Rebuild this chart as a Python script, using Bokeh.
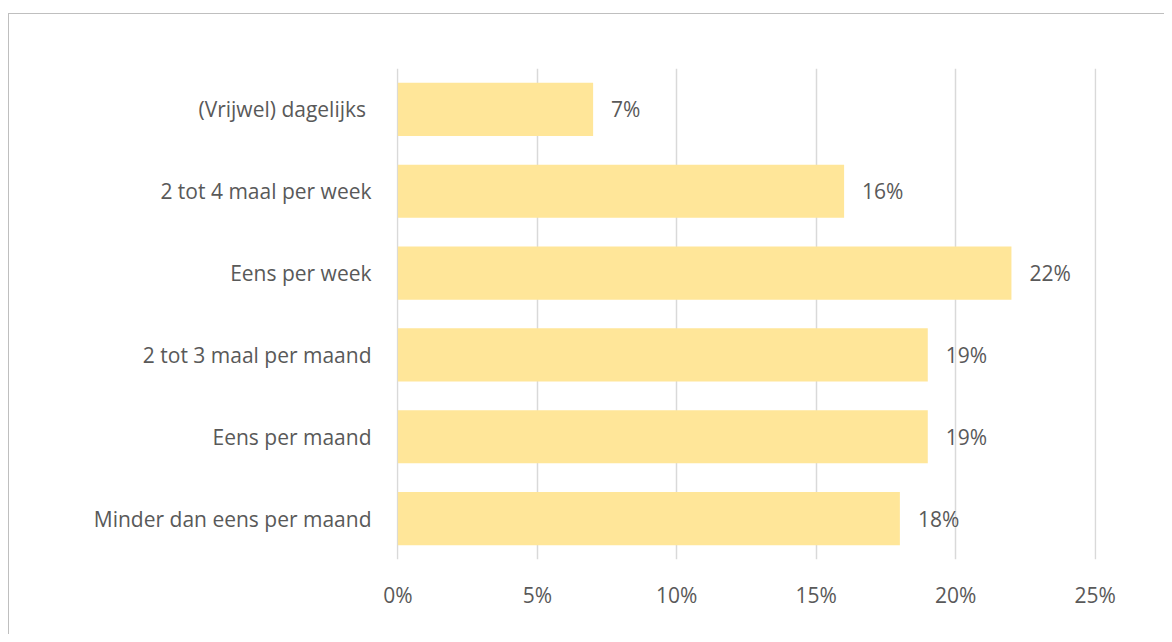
from bokeh.plotting import figure
from bokeh.models import (ColumnDataSource, LabelSet, FixedTicker, PrintfTickFormatter,
                          Range1d, FactorRange)
from bokeh.core.properties import value
from bokeh.embed import file_html
from bokeh.resources import INLINE

categories = ["(Vrijwel) dagelijks ", "2 tot 4 maal per week", "Eens per week",
              "2 tot 3 maal per maand", "Eens per maand", "Minder dan eens per maand"]
values = [7, 16, 22, 19, 19, 18]
x_ticks = [0, 5, 10, 15, 20, 25]
value_labels = [f"{v}%" for v in values]

FONT = "Open Sans"
FS = "21px"
TXT = "#595959"

src = ColumnDataSource(dict(cat=categories, val=values, lab=value_labels))

# canvas starts at (9, 14) after the 1px border and margins
p = figure(width=1155, height=620, output_backend="svg", toolbar_location=None,
           y_range=FactorRange(*list(reversed(categories)), range_padding=0),
           x_range=Range1d(-0.05, 25.05),
           frame_width=700, frame_height=491,
           min_border_left=387, min_border_right=68, min_border_top=54, min_border_bottom=75,
           styles={"border-top": "1px solid #BFBFBF", "border-left": "1px solid #BFBFBF",
                   "margin-left": "8px", "margin-top": "13px"})
p.hbar(y="cat", right="val", left=0, height=0.65, source=src,
       fill_color="#FFE699", line_color=None)

labels = LabelSet(x="val", y="cat", text="lab", source=src, x_offset=18,
                  text_align="left", text_baseline="middle",
                  text_font=value(FONT), text_font_size=value(FS), text_color=TXT)
p.add_layout(labels)

p.xaxis.ticker = FixedTicker(ticks=x_ticks)
p.xaxis.formatter = PrintfTickFormatter(format="%d%%")
for ax in (p.xaxis, p.yaxis):
    ax.axis_line_color = None
    ax.major_tick_line_color = None
    ax.minor_tick_line_color = None
    ax.major_label_text_font = FONT
    ax.major_label_text_font_size = FS
    ax.major_label_text_color = TXT
p.xaxis.major_label_standoff = 15
p.yaxis.major_label_standoff = 19

p.xgrid.grid_line_color = "#D9D9D9"
p.xgrid.grid_line_width = 1.5
p.ygrid.grid_line_color = None
p.outline_line_color = None

open("out.html", "w").write(file_html(p, INLINE))
